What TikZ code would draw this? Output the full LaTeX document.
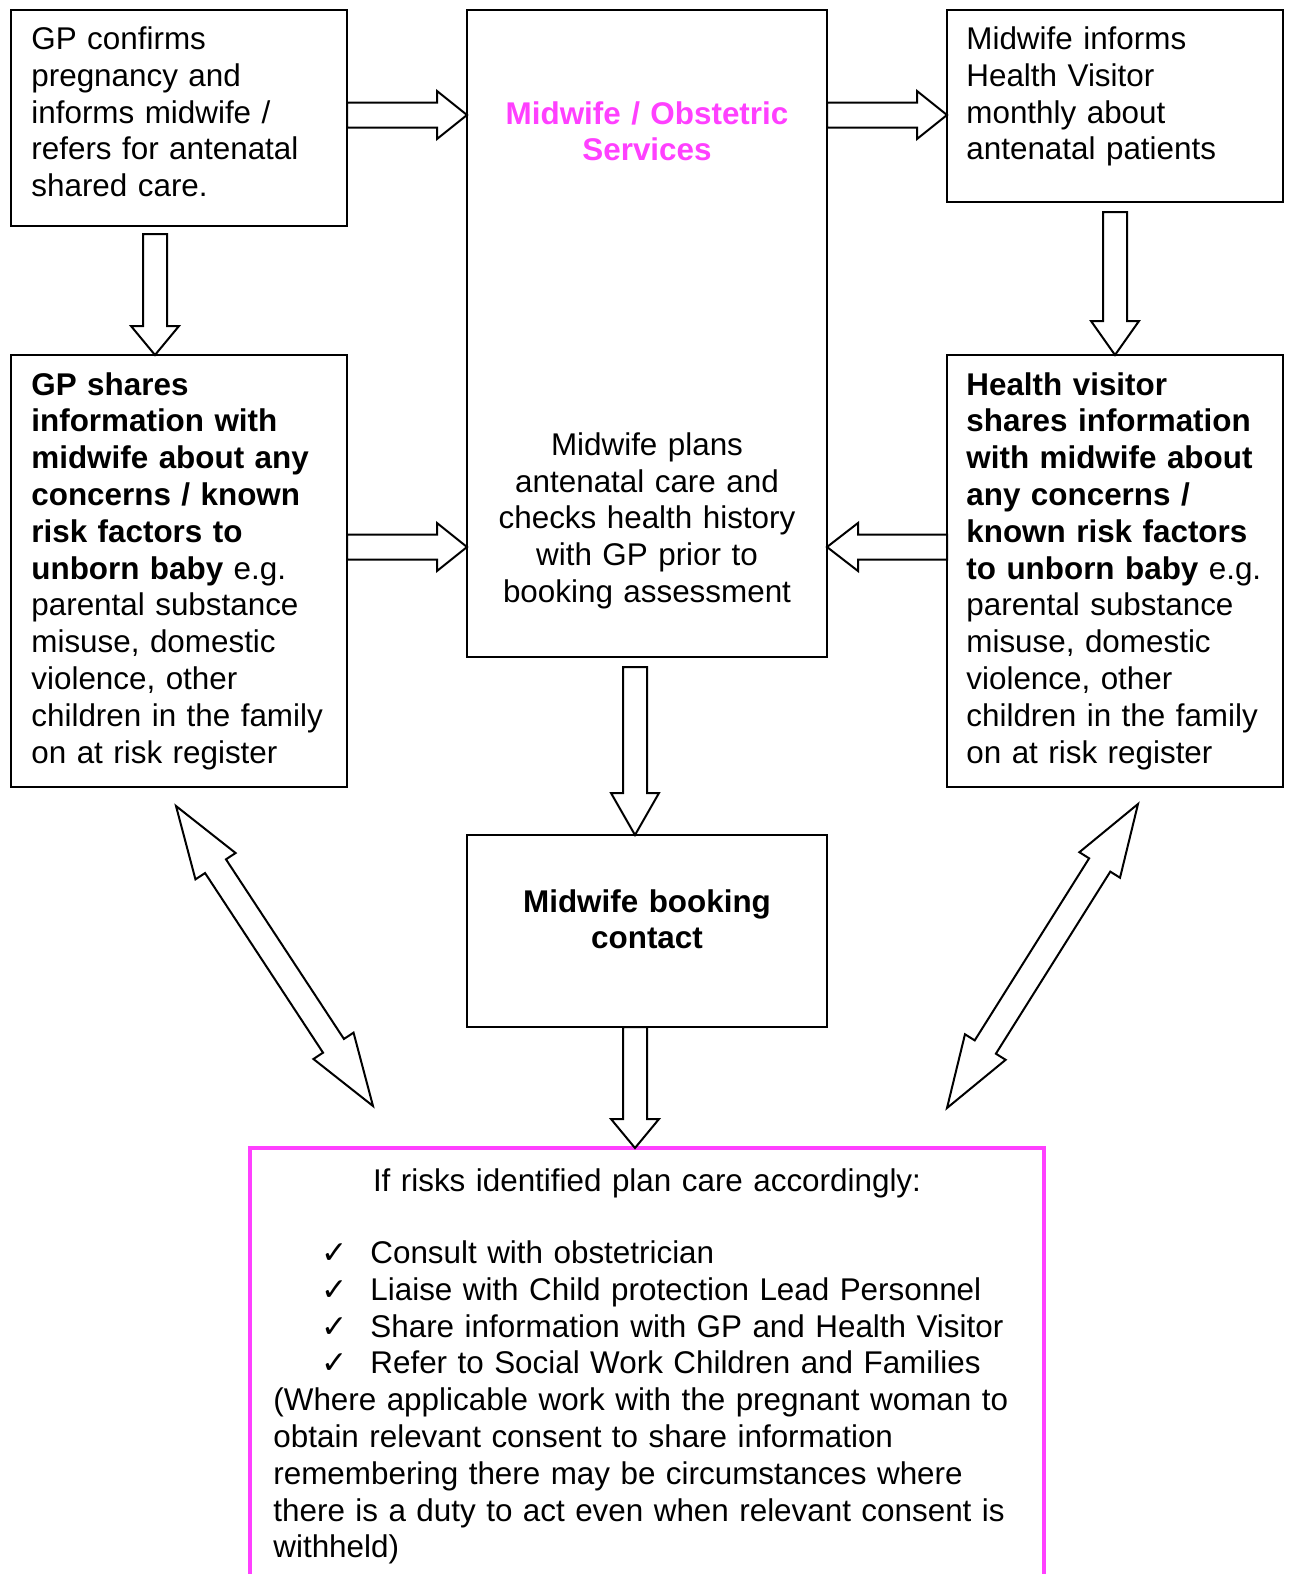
\documentclass[tikz,border=0pt]{standalone}
\usepackage{fontspec}
\setmainfont{Liberation Sans}
\newfontfamily\symfont{DejaVu Sans}
\usetikzlibrary{calc}
\definecolor{pinkline}{RGB}{255,64,255}
\newcommand\bodysize{\fontsize{15.7pt}{18.4pt}\selectfont}
\newcommand\chk{\makebox[24.5pt][l]{\symfont ✓}}

% hollow block arrow: start, tip, shaft half-width, head half-width, head length
\newcommand\blockarrow[5]{%
  \path ($(#2)!#5!(#1)$) coordinate (bah);
  \draw[hollowarrow] ($(#1)!#3!90:(#2)$) -- ($(bah)!#3!90:(#2)$) -- ($(bah)!#4!90:(#2)$)
    -- (#2) -- ($(bah)!#4!-90:(#2)$) -- ($(bah)!#3!-90:(#2)$) -- ($(#1)!#3!-90:(#2)$) -- cycle;}

% hollow double-headed block arrow
\newcommand\dblarrow[5]{%
  \path ($(#1)!#5!(#2)$) coordinate (dbh1);
  \path ($(#2)!#5!(#1)$) coordinate (dbh2);
  \draw[hollowarrow] (#1) -- ($(dbh1)!#4!90:(#2)$) -- ($(dbh1)!#3!90:(#2)$)
    -- ($(dbh2)!#3!90:(#2)$) -- ($(dbh2)!#4!90:(#2)$) -- (#2)
    -- ($(dbh2)!#4!-90:(#2)$) -- ($(dbh2)!#3!-90:(#2)$)
    -- ($(dbh1)!#3!-90:(#2)$) -- ($(dbh1)!#4!-90:(#2)$) -- cycle;}

\tikzset{
  box/.style={draw, line width=1pt, inner sep=0pt, outer sep=0pt, anchor=north west},
  ltxt/.style={inner sep=0pt, text width=165pt, align=left, anchor=base west, font=\bodysize},
  ctxt/.style={inner sep=0pt, text width=180pt, align=center, anchor=base, font=\bodysize},
  hollowarrow/.style={draw, fill=white, line width=1pt, line join=miter},
}

\begin{document}
\begin{tikzpicture}[x=0.5pt, y=-0.5pt]
\useasboundingbox (0,0) rectangle (1290,1574);
\clip (0,0) rectangle (1290,1574);

% boxes
\node[box, minimum width=168pt, minimum height=108pt] (gpc) at (11,10) {};
\node[box, minimum width=180pt, minimum height=323.5pt] (mws) at (467,10) {};
\node[box, minimum width=168pt, minimum height=96pt] (mwi) at (947,10) {};
\node[box, minimum width=168pt, minimum height=216pt] (gps) at (11,355) {};
\node[box, minimum width=168pt, minimum height=216pt] (hvs) at (947,355) {};
\node[box, minimum width=180pt, minimum height=96pt] (mwb) at (467,835) {};
\node[box, draw=pinkline, line width=2pt, minimum width=397pt, minimum height=240pt] (risk) at (250,1148) {};

% texts
\node[ltxt] (gpct) at (31,49.5) {GP confirms\\pregnancy and\\informs midwife /\\refers for antenatal\\shared care.};
\node[ctxt, text=pinkline, font=\bodysize\bfseries] (mwst) at (647,124) {Midwife / Obstetric\\Services};
\node[ctxt] (mwsp) at (647,455.2) {Midwife plans\\antenatal care and\\checks health history\\with GP prior to\\booking assessment};
\node[ltxt] (mwit) at (966,49.5) {Midwife informs\\Health Visitor\\monthly about\\antenatal patients};
\node[ltxt] (gpst) at (31,395) {\textbf{GP shares}\\\textbf{information with}\\\textbf{midwife about any}\\\textbf{concerns / known}\\\textbf{risk factors to}\\\textbf{unborn baby} e.g.\\parental substance\\misuse, domestic\\violence, other\\children in the family\\on at risk register};
\node[ltxt] (hvst) at (966,395) {\textbf{Health visitor}\\\textbf{shares information}\\\textbf{with midwife about}\\\textbf{any concerns /}\\\textbf{known risk factors}\\\textbf{to unborn baby} e.g.\\parental substance\\misuse, domestic\\violence, other\\children in the family\\on at risk register};
\node[ctxt, font=\bodysize\bfseries] (mwbt) at (647,912) {Midwife booking\\contact};
\node[ctxt, text width=390pt] (riskt) at (647,1191) {If risks identified plan care accordingly:};
\node[ltxt, text width=370pt] (riskl) at (321,1263.5) {\chk Consult with obstetrician\\\chk Liaise with Child protection Lead Personnel\\\chk Share information with GP and Health Visitor\\\chk Refer to Social Work Children and Families};
\node[ltxt, text width=385pt] (riskp) at (273,1410.7) {(Where applicable work with the pregnant woman to\\obtain relevant consent to share information\\remembering there may be circumstances where\\there is a duty to act even when relevant consent is\\withheld)};

% connector end points
\path (gpc.east) ++(0,-3) coordinate (a1s);
\path (a1s -| mws.west) coordinate (a1e);
\path (mws.east |- a1s) coordinate (a2s);
\path (mwi.west |- a1s) coordinate (a2e);
\path (gpc.south) ++(-24,8) coordinate (a3s);
\path (a3s |- gps.north) coordinate (a3e);
\path (mwi.south) ++(0,10) coordinate (a4s);
\path (a4s |- hvs.north) coordinate (a4e);
\path (gps.east) ++(0,-24) coordinate (a5s);
\path (a5s -| mws.west) coordinate (a5e);
\path (hvs.west |- a5s) coordinate (a6s);
\path (mws.east |- a5s) coordinate (a6e);
\path (mws.south) ++(-12,10) coordinate (a7s);
\path (a7s |- mwb.north) coordinate (a7e);
\path (mwb.south) ++(-12,0) coordinate (a8s);
\path (a8s |- risk.north) coordinate (a8e);
\coordinate (dl1) at (176,806);
\coordinate (dl2) at (373,1106);
\coordinate (dr1) at (1138,804);
\coordinate (dr2) at (947,1108);

% connectors
\blockarrow{a1s}{a1e}{6.25pt}{12pt}{15pt}
\blockarrow{a2s}{a2e}{6.25pt}{12pt}{15pt}
\blockarrow{a3s}{a3e}{6pt}{12pt}{14.5pt}
\blockarrow{a4s}{a4e}{6pt}{12pt}{17pt}
\blockarrow{a5s}{a5e}{6.25pt}{12pt}{15pt}
\blockarrow{a6s}{a6e}{6.25pt}{12pt}{15.5pt}
\blockarrow{a7s}{a7e}{6pt}{12pt}{21pt}
\blockarrow{a8s}{a8e}{6pt}{12pt}{14.5pt}
\dblarrow{dl1}{dl2}{6.25pt}{12pt}{36pt}
\dblarrow{dr1}{dr2}{6.25pt}{12pt}{36pt}
\end{tikzpicture}
\end{document}
